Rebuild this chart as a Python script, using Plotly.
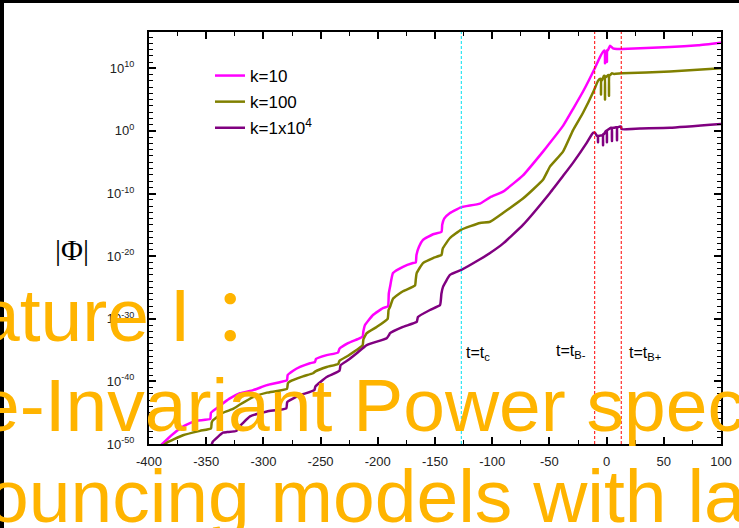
import numpy as np
import plotly.graph_objects as go

# ---------------- data (t, log10|Phi|) ----------------
k10_t = [-390, -388.4, -379, -368, -358.3, -346.5, -345.8, -338, -330, -320.5, -309.1, -296.9, -279.4,
         -278.8, -274, -268, -259.3, -254.9, -254, -244.7, -234.8, -233.5, -226, -215.6, -213.2,
         -212.6, -211.2, -204.2, -195.5, -191.1, -190.4, -189.3, -186.7, -178, -169.2, -166.8,
         -166.2, -164, -160.5, -151.7, -144.3, -143.7, -142, -136.9, -127.3,
         -110.7, -101.9, -90.6, -73.1, -55.6, -49.5, -38.1, -29.4, -20.6, -10.1, -5.8,
         -2.4, -1.6, -1.4, -1.2, -0.5, 0.1, 0.3, 0.5, 1.2, 3, 5.6, 9.1, 13.5, 55.4, 80, 100]
k10_log = [-50.3, -50, -48.4, -47.0, -46.3, -46.0, -45.0, -43.9, -42.8, -41.9, -41.4, -40.6, -39.8,
           -39.0, -38.3, -37.7, -37.1, -36.9, -36.4, -35.8, -35.4, -34.8, -33.9, -33.1, -32.8,
           -32.0, -31.0, -29.4, -28.3, -28.0, -26.0, -24.9, -22.7, -21.7, -21.1, -21.0,
           -19.8, -18.5, -17.4, -16.5, -16.1, -15.0, -14.0, -13.1, -12.2,
           -11.6, -10.6, -9.7, -7.1, -3.3, -1.9, 0.8, 3.5, 6.3, 10.1, 11.8,
           12.8, 12.8, 10.8, 12.6, 12.6, 12.6, 11.0, 12.9, 12.9, 13.6, 13.2, 13.1, 13.1, 13.4, 13.7, 14.1]

k100_t = [-390, -384.5, -370.3, -355.4, -345.8, -345.2, -344.1, -335.3, -326.6, -320.5, -309.1, -296.9, -279.4,
          -278.6, -276.7, -265.4, -256.6, -254.5, -244.7, -234.5, -233.5, -226, -215.6, -213.2, -212.6,
          -209.7, -201, -191.4, -190.6, -189.3, -186.7, -178, -167.5, -166.8, -166, -160.5, -151.7,
          -144.3, -143.5, -143, -136.9, -127.3,
          -110.7, -101.9, -90.6, -73.1, -55.6, -49.5, -38.1, -29.4, -20.6, -11, -7.5, -5.8,
          -5.0, -4.9, -4.7, -4, -2.3, -1.6, -1.4, -1.2, -0.5, 1.2, 1.9, 2.1, 2.3, 3, 4.7, 6.5, 13.5, 55.4, 100]
k100_log = [-50.6, -49.8, -48.6, -47.9, -47.5, -46.6, -46.2, -45.0, -44.4, -43.7, -42.5, -41.8, -41.2,
            -40.3, -40.0, -39.2, -38.7, -38.4, -37.7, -37.2, -36.7, -35.9, -34.6, -34.2, -33.3,
            -32.3, -31.3, -30.0, -28.6, -28.1, -26.8, -25.6, -24.7, -23.7, -22.7, -21.1, -20.3,
            -19.8, -19.0, -18.7, -17.1, -15.8,
            -14.7, -14.5, -13.1, -10.8, -7.8, -5.7, -3.3, 0.1, 2.9, 6.5, 8.0, 8.3,
            8.3, 5.8, 8.1, 8.1, 8.8, 8.8, 5.0, 8.6, 8.6, 8.9, 8.9, 5.6, 8.9, 8.9, 9.2, 9.1, 9.2, 9.5, 10.0]

k1e4_t = [-346, -344.1, -335.3, -331.8, -323.5, -322.8, -320.5, -311.7, -296.9, -280, -279.2, -276.7, -268,
          -255.5, -254.5, -244.7, -233.5, -232.5, -226, -218.4, -209.7, -192.2, -190.2, -189.3, -178,
          -166, -165.3, -164.9, -154.4, -145.6, -144.4, -143, -136.9, -127,
          -110.7, -101.9, -90.6, -73.1, -49.5, -38.1, -29.4, -17.4, -11.9, -10.1, -8.4, -7.6, -7.5, -7.4,
          -4, -3.2, -3.1, -3.0, -2.3, -0.5, 0.2, 0.3, 0.4, 1.2, 3.8, 4.6, 4.7, 4.8, 6.5, 8.2, 9.0, 9.1, 9.2,
          10, 11.7, 12.8, 13, 29.2, 55.4, 100]
k1e4_log = [-50.5, -49.6, -48.2, -48.1, -47.9, -47.3, -47.1, -45.6, -44.8, -44.3, -43.3, -43.0, -42.2,
            -41.4, -40.8, -39.3, -38.3, -37.4, -36.6, -35.5, -34.2, -33.1, -32.6, -32.3, -31.3,
            -30.5, -30.0, -29.7, -28.6, -27.8, -26.0, -24.9, -23.0, -22.2,
            -20.5, -19.5, -18.0, -15.0, -9.9, -7.2, -5.1, -1.9, -0.3, -0.3, -0.8, -0.8, -1.8, -0.8,
            -0.7, -0.6, -2.3, -0.5, -0.5, 0.0, 0.0, -1.8, 0.1, 0.2, 0.5, 0.5, -1.6, 0.5, 0.5, 0.6, 0.6, -1.5, 0.6,
            0.6, 0.7, 0.7, 0.3, 0.4, 0.5, 1.1]

series_names = ["k=10", "k=100", "k=1x10<sup>4</sup>"]
series_colors = ["#FF00FF", "#808000", "#800080"]

t_c, t_bminus, t_bplus = -127.0, -10.4, 12.8

x_tick_vals = [-400, -350, -300, -250, -200, -150, -100, -50, 0, 50, 100]
x_tick_text = ["-400", "-350", "-300", "-250", "-200", "-150", "-100", "-50", "0", "50", "100"]
y_tick_vals = [1e-50, 1e-40, 1e-30, 1e-20, 1e-10, 1e0, 1e10]
y_tick_text = ["10<sup>-50</sup>", "10<sup>-40</sup>", "10<sup>-30</sup>", "10<sup>-20</sup>",
               "10<sup>-10</sup>", "10<sup>0</sup>", "10<sup>10</sup>"]

overlay_lines = ["ature I ：", "e-Invariant Power spec", "ouncing models with lar"]

# ---------------- figure ----------------
W, H = 739, 528
ML, MR, MT, MB = 149, 18, 32, 84
PW, PH = W - ML - MR, H - MT - MB


def px(xp):
    return (xp - ML) / PW


def py(yp):
    return (H - MB - yp) / PH


fig = go.Figure()
for i, (tt, ll) in enumerate([(k10_t, k10_log), (k100_t, k100_log), (k1e4_t, k1e4_log)]):
    fig.add_trace(go.Scatter(
        x=tt, y=10.0 ** np.array(ll), mode="lines", name=series_names[i],
        legendgroup=f"g{i}",
        line=dict(color=series_colors[i], width=2.5, shape="spline", smoothing=0.4)))

shapes = []
for xv, col in [(t_c, "#00E0F0"), (t_bminus, "#FF0000"), (t_bplus, "#FF0000")]:
    shapes.append(dict(type="line", xref="x", yref="paper", x0=xv, x1=xv, y0=0, y1=1,
                       line=dict(color=col, width=1, dash="3px,2px")))
# black frame of the slide (top and left)
shapes.append(dict(type="rect", xref="paper", yref="paper", x0=px(-5), x1=px(745), y0=py(3), y1=py(-5),
                   fillcolor="black", line=dict(width=0), layer="above"))
shapes.append(dict(type="rect", xref="paper", yref="paper", x0=px(-5), x1=px(4), y0=py(535), y1=py(-5),
                   fillcolor="black", line=dict(width=0), layer="above"))

annotations = [
    dict(text="|Φ|", xref="paper", yref="paper", x=px(72), y=py(249), xanchor="center", yanchor="middle",
         showarrow=False, font=dict(family="Liberation Serif", size=30, color="black")),
    dict(text="t=t<sub>c</sub>", xref="paper", yref="paper", x=px(464), y=py(353), xanchor="left",
         yanchor="middle", showarrow=False, font=dict(family="Liberation Sans", size=16, color="black")),
    dict(text="t=t<sub>B-</sub>", xref="paper", yref="paper", x=px(554), y=py(351), xanchor="left",
         yanchor="middle", showarrow=False, font=dict(family="Liberation Sans", size=16, color="black")),
    dict(text="t=t<sub>B+</sub>", xref="paper", yref="paper", x=px(627), y=py(353), xanchor="left",
         yanchor="middle", showarrow=False, font=dict(family="Liberation Sans", size=16, color="black")),
]
for txt, xl, yc in zip(overlay_lines, [-24, -24, -15], [315, 405, 496]):
    annotations.append(dict(text=txt, xref="paper", yref="paper", x=px(xl), y=py(yc),
                            xanchor="left", yanchor="middle", showarrow=False,
                            font=dict(family="Liberation Sans, Noto Sans CJK SC", size=75, color="#FFB400")))

axis_common = dict(showline=True, linewidth=2, linecolor="black", mirror="ticks", automargin=False,
                   ticks="inside", tickwidth=1.5, tickcolor="black", showgrid=False, zeroline=False,
                   tickfont=dict(family="Liberation Sans", size=13, color="#222"))

fig.update_layout(
    width=W, height=H, margin=dict(l=ML, r=MR, t=MT, b=MB, autoexpand=False),
    paper_bgcolor="white", plot_bgcolor="white",
    showlegend=True,
    legend=dict(x=px(210), y=py(58), xanchor="left", yanchor="top", bgcolor="rgba(0,0,0,0)",
                font=dict(family="Liberation Sans", size=17, color="black"),
                tracegroupgap=1, traceorder="grouped"),
    shapes=shapes, annotations=annotations,
    xaxis=dict(range=[-400, 100], tickmode="array", tickvals=x_tick_vals, ticktext=x_tick_text,
               ticklen=7, ticklabelstandoff=4,
               minor=dict(dtick=25, tick0=0, ticks="inside", ticklen=4, tickwidth=1.2, tickcolor="black"),
               **axis_common),
    yaxis=dict(type="log", range=[-50, 15.8], tickmode="array", tickvals=y_tick_vals, ticktext=y_tick_text,
               ticklen=7, ticklabelstandoff=10,
               minor=dict(dtick=1, tick0=0, ticks="inside", ticklen=4, tickwidth=1.2, tickcolor="black"),
               **axis_common),
)

fig.write_html("out.html")
